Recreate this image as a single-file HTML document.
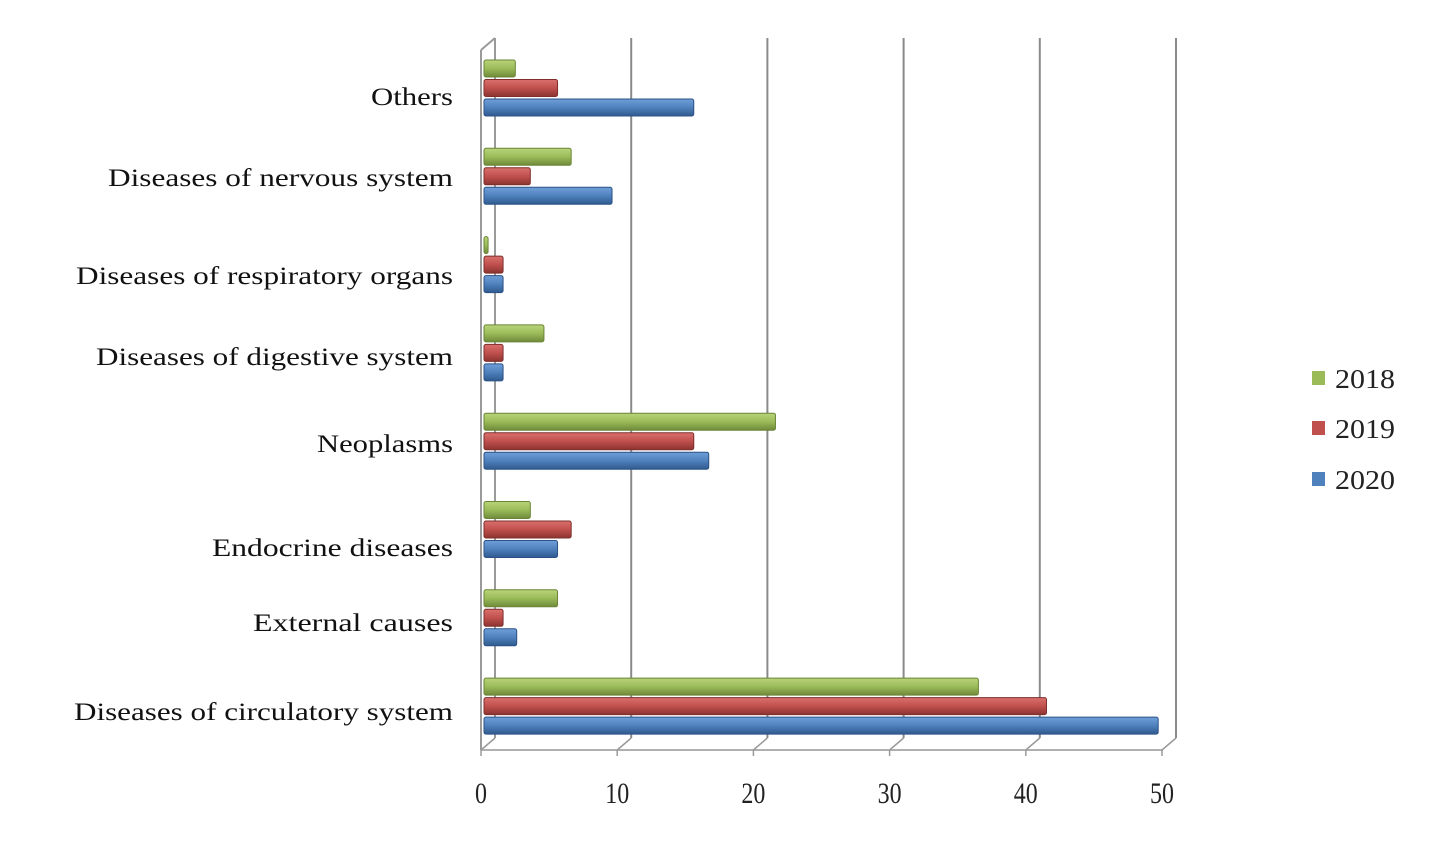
<!DOCTYPE html>
<html><head><meta charset="utf-8"><style>
html,body{margin:0;padding:0;background:#fff;}
svg{display:block;font-family:"Liberation Serif",serif;}
</style></head><body>
<svg id="chart" width="1447" height="865" viewBox="0 0 1447 865" xmlns="http://www.w3.org/2000/svg">
<defs>
<linearGradient id="gG" x1="0" y1="0" x2="0" y2="1"><stop offset="0" stop-color="#b8d47a"/><stop offset="0.5" stop-color="#9bbb59"/><stop offset="1" stop-color="#6f8a3a"/></linearGradient>
<linearGradient id="gR" x1="0" y1="0" x2="0" y2="1"><stop offset="0" stop-color="#d9706d"/><stop offset="0.5" stop-color="#c0504d"/><stop offset="1" stop-color="#8c3431"/></linearGradient>
<linearGradient id="gB" x1="0" y1="0" x2="0" y2="1"><stop offset="0" stop-color="#6f9fd8"/><stop offset="0.5" stop-color="#4f81bd"/><stop offset="1" stop-color="#2f5a8e"/></linearGradient>
</defs>
<g id="grid"></g>
<g id="bars"></g>
<g id="labels"></g>
<g id="ticks"></g>
<g id="legend"></g>
</svg>
<script>
const categories=["Others","Diseases of nervous system","Diseases of respiratory organs","Diseases of digestive system","Neoplasms","Endocrine diseases","External  causes","Diseases of circulatory system"];
const labelWidths=[82,345,377,357,136,241,200,379];
const labelY=[97,178,276,357,444,548,623,712];
const series=["2018","2019","2020"];
const v2018=[2.3,6.4,0.3,4.4,21.4,3.4,5.4,36.3];
const v2019=[5.4,3.4,1.4,1.4,15.4,6.4,1.4,41.3];
const v2020=[15.4,9.4,1.4,1.4,16.5,5.4,2.4,49.5];
const tickValues=[0,10,20,30,40,50];
const NS="http://www.w3.org/2000/svg";
function mk(t,a,p){const e=document.createElementNS(NS,t);for(const k in a)e.setAttribute(k,a[k]);p.appendChild(e);return e;}
const x0=484,pxPer=13.62;
function xs(v){return x0+v*pxPer;}
function tickX(v){return 481+v*13.62;}
function catY(i){return 88+i*88.3;}
const grid=document.getElementById('grid');
let l=mk('line',{x1:481,y1:50,x2:481,y2:750,stroke:'#9a9a9a','stroke-width':2},grid);

l=mk('line',{x1:495,y1:38,x2:495,y2:738,stroke:'#9a9a9a','stroke-width':2},grid);

l=mk('line',{x1:481,y1:50,x2:495,y2:38,stroke:'#9a9a9a','stroke-width':2},grid);

l=mk('line',{x1:481,y1:750,x2:1163,y2:750,stroke:'#b0b0b0','stroke-width':2},grid);

tickValues.forEach(v=>{
  const fx=tickX(v),bx=fx+14;
  if(v>0){const g=mk('line',{x1:bx,y1:38,x2:bx,y2:738,stroke:'#8a8a8a','stroke-width':2},grid);
  }
  const s=mk('line',{x1:fx,y1:750,x2:bx,y2:738,stroke:'#9a9a9a','stroke-width':1.5},grid);
  
  const tk=mk('line',{x1:fx,y1:750,x2:fx,y2:756,stroke:'#9a9a9a','stroke-width':1.5},grid);
  
  const t=mk('text',{x:fx,y:803,'text-anchor':'middle','font-size':30,fill:'#222',transform:'translate('+fx+' 0) scale(0.8 1) translate('+(-fx)+' 0)'},document.getElementById('ticks'));
  t.textContent=v;
  
});
const bars=document.getElementById('bars');
const fills=['url(#gG)','url(#gR)','url(#gB)'];
const strokes=['#6a8536','#7e2f2c','#2c5285'];
const vals=[v2018,v2019,v2020];
categories.forEach((c,i)=>{
  vals.forEach((arr,s)=>{
    const cy=catY(i)+(s-1)*19.5, h=17, w=Math.max(xs(arr[i])-x0,3);
    const r=mk('rect',{x:x0,y:cy-h/2,width:w,height:h,rx:2,fill:fills[s],stroke:strokes[s],'stroke-width':1},bars);
    
  });
  const t=mk('text',{x:453,y:labelY[i]+8,'text-anchor':'end','font-size':25,fill:'#111',textLength:labelWidths[i],lengthAdjust:'spacingAndGlyphs'},document.getElementById('labels'));
  t.textContent=c;
  
});
const legend=document.getElementById('legend');
const legCol=['#9bbb59','#c0504d','#4f81bd'];
const legY=[378,428,479];
series.forEach((s,i)=>{
  const r=mk('rect',{x:1312,y:legY[i]-7,width:13,height:14,fill:legCol[i]},legend);
  
  const t=mk('text',{x:1335,y:legY[i]+10,'font-size':27,fill:'#222',textLength:60,lengthAdjust:'spacingAndGlyphs'},legend);
  t.textContent=s;
  
});
</script>
</body></html>
